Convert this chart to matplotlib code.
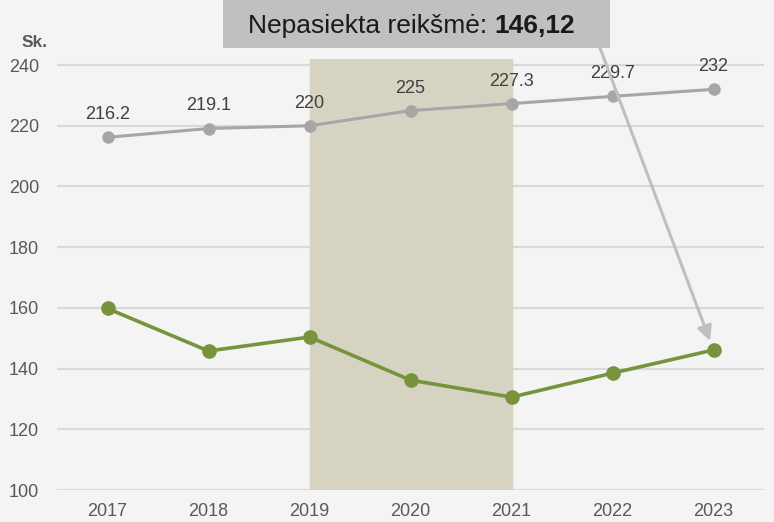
import matplotlib.pyplot as plt
from matplotlib.patches import Rectangle

plt.rcParams["font.family"] = ["Liberation Sans", "DejaVu Sans"]

years = ["2017", "2018", "2019", "2020", "2021", "2022", "2023"]
target = [216.2, 219.1, 220, 225, 227.3, 229.7, 232]
actual = [159.8, 145.8, 150.4, 136.2, 130.6, 138.5, 146.12]
target_labels = ["216.2", "219.1", "220", "225", "227.3", "229.7", "232"]
yticks = [100, 120, 140, 160, 180, 200, 220, 240]
shade_from, shade_to = "2019", "2021"
note_text = "Nepasiekta reikšmė: "
note_value = "146,12"

BG = "#f4f4f4"
GRAY = "#a6a6a6"
GREEN = "#77933c"
TXT = "#595959"

fig = plt.figure(figsize=(7.74, 5.22), dpi=100, facecolor=BG)
W, H = 774, 522
ax = fig.add_axes([57 / W, 1 - 490 / H, (764 - 57) / W, (490 - 59) / H])
ax.set_facecolor(BG)

x = list(range(len(years)))
ax.set_xlim(-0.5, len(years) - 0.5)
ax.set_ylim(100, 242)

ax.axvspan(years.index(shade_from), years.index(shade_to), color="#d6d3c2", zorder=1)

for t in yticks:
    ax.axhline(t, color="#d9d9d9", lw=1.5, zorder=0.5)

ax.plot(x, target, color=GRAY, lw=2.2, marker="o", ms=8, zorder=3)
ax.plot(x, actual, color=GREEN, lw=2.6, marker="o", ms=9.5, zorder=3)

for xi, v, lab in zip(x, target, target_labels):
    ax.annotate(lab, (xi, v), xytext=(0, 13), textcoords="offset points",
                ha="center", va="baseline", fontsize=13, color="#404040")

ax.set_xticks(x)
ax.set_xticklabels(years)
ax.set_yticks(yticks)
ax.tick_params(length=0, labelsize=13, labelcolor=TXT)
ax.tick_params(axis="x", pad=9)
ax.tick_params(axis="y", pad=13)
for s in ax.spines.values():
    s.set_visible(False)

fig.text(48 / W, 1 - 47 / H, "Sk.", ha="right", va="baseline",
         fontsize=12.5, fontweight="bold", color=TXT)

# annotation box
fig.patches.append(Rectangle((223 / W, 1 - 48 / H), 387 / W, 60 / H,
                             transform=fig.transFigure, facecolor="#c0c0c0",
                             edgecolor="none", zorder=5))
t1 = fig.text(248 / W, 1 - 33 / H, note_text, ha="left", va="baseline",
              fontsize=19, color="#1a1a1a", zorder=6)
fig.canvas.draw()
bb = t1.get_window_extent()
fig.text(bb.x1 / W, 1 - 33 / H, note_value, ha="left", va="baseline",
         fontsize=19, fontweight="bold", color="#1a1a1a", zorder=6)

ax.annotate("", xy=(6, 146.12), xycoords="data",
            xytext=(597 / W, 1 - 40 / H), textcoords="figure fraction",
            arrowprops=dict(arrowstyle="-|>", color="#bfbfbf", lw=2.2,
                            mutation_scale=22, shrinkA=0, shrinkB=7),
            annotation_clip=False, zorder=4)

fig.savefig("out.png", dpi=100, facecolor=BG)
